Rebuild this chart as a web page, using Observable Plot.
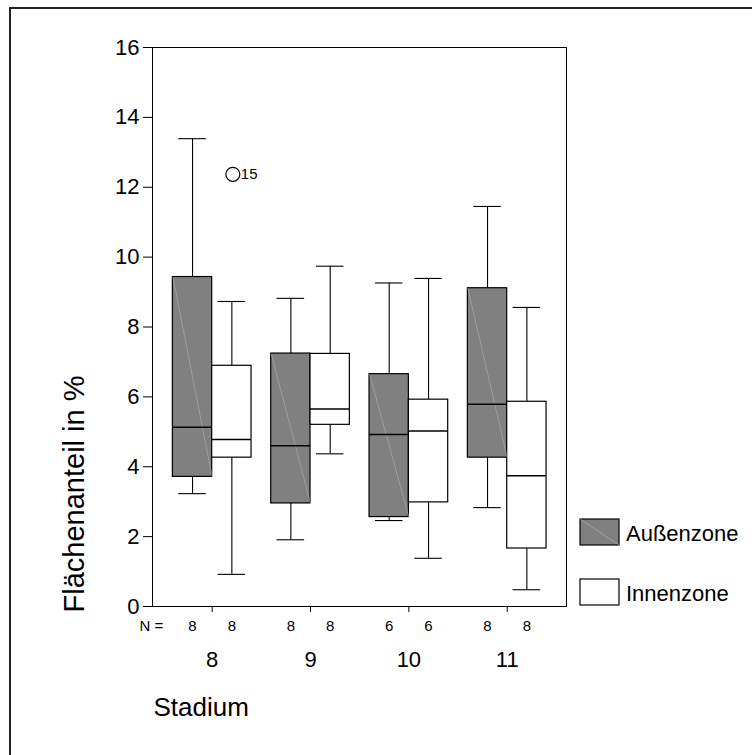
<!DOCTYPE html>
<html>
<head>
<meta charset="utf-8">
<script src="https://cdn.jsdelivr.net/npm/d3@7"></script>
<script src="https://cdn.jsdelivr.net/npm/@observablehq/plot@0.6"></script>
<style>
  html, body { margin: 0; padding: 0; background: white; overflow: hidden; }
  #wrap { position: relative; width: 752px; height: 755px; overflow: hidden; }
  #border { position: absolute; left: 9px; top: 7px; width: 743px; height: 748px; border-left: 2px solid #222; border-top: 2px solid #222; box-sizing: border-box; pointer-events: none; }
  #chart { position: absolute; left: 0; top: 0; }
</style>
</head>
<body>
<div id="wrap"><div id="chart"></div><div id="border"></div></div>
<script>
// ---- data ----
const stages = [8, 9, 10, 11];
const zones = ["Außenzone", "Innenzone"];
const zoneColors = ["#808080", "#ffffff"];
const nAussen = [8, 8, 6, 8];
const nInnen = [8, 8, 6, 8];
const aussenMin = [3.23, 1.91, 2.46, 2.83];
const aussenQ1 = [3.71, 2.95, 2.56, 4.26];
const aussenMed = [5.13, 4.60, 4.92, 5.79];
const aussenQ3 = [9.43, 7.24, 6.65, 9.11];
const aussenMax = [13.39, 8.82, 9.26, 11.45];
const innenMin = [0.92, 4.37, 1.38, 0.48];
const innenQ1 = [4.26, 5.20, 2.98, 1.66];
const innenMed = [4.78, 5.65, 5.02, 3.74];
const innenQ3 = [6.89, 7.23, 5.92, 5.86];
const innenMax = [8.73, 9.74, 9.39, 8.56];
const outlierStage = [8];
const outlierZone = ["Innenzone"];
const outlierValue = [12.37];
const outlierLabel = ["15"];
const yTicks = [0, 2, 4, 6, 8, 10, 12, 14, 16];
const xLabel = "Stadium";
const yLabel = "Flächenanteil in %";

// ---- build rows ----
const half = 0.2;   // half box width (in stage units)
const cap = 0.14;   // half whisker cap width
const offset = z => z === zones[0] ? -half : half;
const rows = [];
stages.forEach((s, i) => {
  rows.push({stage: s, zone: zones[0], n: nAussen[i], min: aussenMin[i], q1: aussenQ1[i], med: aussenMed[i], q3: aussenQ3[i], max: aussenMax[i]});
  rows.push({stage: s, zone: zones[1], n: nInnen[i], min: innenMin[i], q1: innenQ1[i], med: innenMed[i], q3: innenQ3[i], max: innenMax[i]});
});
rows.forEach(r => r.c = r.stage + offset(r.zone));
const outliers = outlierStage.map((s, i) => ({stage: s, zone: outlierZone[i], value: outlierValue[i], label: outlierLabel[i], c: s + offset(outlierZone[i])}));

const W = 752, H = 755;
const mL = 152, mR = 186, mT = 47, mB = 149;

const plot = Plot.plot({
  width: W, height: H,
  marginLeft: mL, marginRight: mR, marginTop: mT, marginBottom: mB,
  style: {fontFamily: "'Liberation Sans', Arial, sans-serif", color: "black", background: "transparent", overflow: "visible"},
  x: {domain: [7.393, 11.603], axis: null},
  y: {domain: [0, 16], axis: null},
  color: {domain: zones, range: zoneColors},
  marks: [
    Plot.frame({stroke: "black", strokeWidth: 1}),
    Plot.axisY({ticks: yTicks, tickSize: 9, tickPadding: 4, fontSize: 22, label: null, stroke: "black"}),
    Plot.axisX({ticks: stages, tickSize: 6, tickFormat: () => "", label: null, stroke: "black"}),
    // whiskers
    Plot.ruleX(rows, {x: "c", y1: "min", y2: "q1", stroke: "black", strokeWidth: 1.1}),
    Plot.ruleX(rows, {x: "c", y1: "q3", y2: "max", stroke: "black", strokeWidth: 1.1}),
    Plot.ruleY(rows, {y: "min", x1: d => d.c - cap, x2: d => d.c + cap, stroke: "black", strokeWidth: 1.1}),
    Plot.ruleY(rows, {y: "max", x1: d => d.c - cap, x2: d => d.c + cap, stroke: "black", strokeWidth: 1.1}),
    // boxes
    Plot.rect(rows, {x1: d => d.c - half, x2: d => d.c + half, y1: "q1", y2: "q3", fill: "zone", stroke: "black", strokeWidth: 1.2}),
    Plot.link(rows.filter(d => d.zone === zones[0]), {x1: d => d.c - half, y1: "q3", x2: d => d.c + half, y2: "q1", stroke: "#b0b0b0", strokeWidth: 0.6}),
    // medians
    Plot.ruleY(rows, {y: "med", x1: d => d.c - half, x2: d => d.c + half, stroke: "black", strokeWidth: 1.5}),
    // outliers
    Plot.dot(outliers, {x: "c", y: "value", r: 7, fill: "white", stroke: "black", strokeWidth: 1.2, dx: 1}),
    Plot.text(outliers, {x: "c", y: "value", text: "label", dx: 9, textAnchor: "start", fontSize: 15}),
    // N row
    Plot.text(["N ="], {frameAnchor: "bottom-left", dx: -13, dy: 24, textAnchor: "start", lineAnchor: "bottom", fontSize: 15}),
    Plot.text(rows, {x: "c", text: d => String(d.n), frameAnchor: "bottom", dy: 24, lineAnchor: "bottom", fontSize: 15}),
    // category labels
    Plot.text(stages, {x: d => d, text: d => String(d), frameAnchor: "bottom", dy: 60, lineAnchor: "bottom", fontSize: 22}),
    // axis titles
    Plot.text([xLabel], {frameAnchor: "bottom-left", dx: 1, dy: 109, textAnchor: "start", lineAnchor: "bottom", fontSize: 26}),
    Plot.text([yLabel], {frameAnchor: "left", textAnchor: "middle", rotate: -90, dx: -78, dy: 167, fontSize: 29})
  ]
});
document.getElementById("chart").appendChild(plot);

// ---- legend (inside the same svg, right of the plot area) ----
const svg = d3.select(plot);
const lx = W - mR + 14;
const legendY = [519, 579];
const lg = svg.append("g").attr("font-family", "'Liberation Sans', Arial, sans-serif").attr("text-anchor", "start");
zones.forEach((z, i) => {
  const y = legendY[i];
  lg.append("rect").attr("x", lx).attr("y", y).attr("width", 39).attr("height", 26)
    .attr("fill", zoneColors[i]).attr("stroke", "black").attr("stroke-width", 1.2);
  if (i === 0) {
    lg.append("line").attr("x1", lx).attr("y1", y).attr("x2", lx + 39).attr("y2", y + 26)
      .attr("stroke", "#b0b0b0").attr("stroke-width", 0.6);
  }
  lg.append("text").attr("x", lx + 46).attr("y", y + 22).attr("text-anchor", "start")
    .attr("font-size", 22).attr("fill", "black").text(z);
});
</script>
</body>
</html>
